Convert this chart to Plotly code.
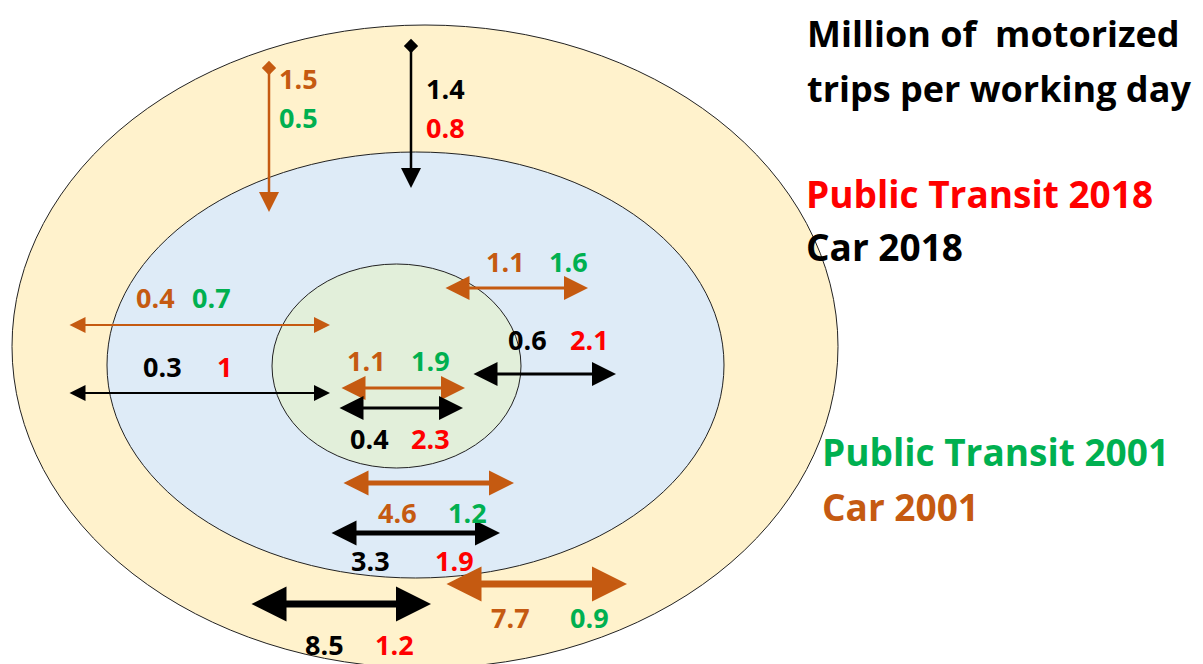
import plotly.graph_objects as go

# ---- data: million motorized trips per working day ----
flows = ["outer_to_middle", "outer_to_inner", "middle_inner_right", "inner_internal", "middle_internal", "outer_internal"]
car_2001 = ["1.5", "0.4", "1.1", "1.1", "4.6", "7.7"]
pt_2001 = ["0.5", "0.7", "1.6", "1.9", "1.2", "0.9"]
car_2018 = ["1.4", "0.3", "0.6", "0.4", "3.3", "8.5"]
pt_2018 = ["0.8", "1", "2.1", "2.3", "1.9", "1.2"]

legend_labels = ["Public Transit 2018", "Car 2018", "Public Transit 2001", "Car 2001"]
title_lines = ["Million of  motorized", "trips per working day"]

# ---- layout geometry (pixels) ----
ORANGE = "#C55A11"
GREEN = "#00B050"
RED = "#FF0000"
BLACK = "#000000"

# label positions: (x_first, x_second, y_first, y_second)
pos_2001 = [(298, 298, 78, 117), (155, 211, 297, 297), (505, 568, 261, 261),
            (366, 430, 360, 360), (397, 467, 512, 512), (510, 589, 617, 617)]
pos_2018 = [(445, 445, 88, 127), (162, 224, 366, 366), (527, 589, 339, 339),
            (369, 430, 438, 438), (370, 454, 560, 560), (324, 394, 644, 644)]

# arrows: (x_tail, y_tail, x_head, y_head, width, both_ends)
arrows_2001 = [(269, 68, 269, 212, 2.5, False), (68, 325, 330, 325, 2, True), (444, 288, 588, 288, 3, True),
               (340, 388, 465, 388, 3, True), (342, 483, 514, 483, 5, True), (445, 584, 627, 584, 7, True)]
arrows_2018 = [(411, 46, 411, 188, 2.5, False), (68, 393, 330, 393, 2, True), (472, 374, 616, 374, 3, True),
               (338, 408, 463, 408, 3, True), (330, 533, 500, 533, 5, True), (250, 604, 431, 604, 7, True)]

fig = go.Figure()

# ellipses
fig.add_shape(type="circle", xref="x", yref="y", x0=12, x1=838, y0=25, y1=668,
              fillcolor="#FFF2CC", line=dict(color="#222222", width=1), layer="below")
fig.add_shape(type="circle", xref="x", yref="y", x0=107, x1=724, y0=152, y1=578,
              fillcolor="#DEEBF7", line=dict(color="#222222", width=1), layer="below")
fig.add_shape(type="circle", xref="x", yref="y", x0=272, x1=521, y0=264, y1=468,
              fillcolor="#E2EFDA", line=dict(color="#222222", width=1), layer="below")

FONT = "Open Sans"
NUM_SIZE = 27

def add_arrows(arrs, color):
    for (x0, y0, x1, y1, w, both) in arrs:
        sz = 1.6 if w <= 3 else 1.0
        fig.add_annotation(x=x1, y=y1, ax=x0, ay=y0, xref="x", yref="y", axref="x", ayref="y",
                           text="", showarrow=True, arrowhead=2, arrowsize=sz,
                           arrowwidth=w, arrowcolor=color,
                           arrowside="end+start" if both else "end", startarrowhead=2,
                           startarrowsize=sz, standoff=0, startstandoff=0)
        if not both:
            fig.add_trace(go.Scatter(x=[x0], y=[y0], mode="markers",
                                     marker=dict(symbol="diamond", size=11, color=color),
                                     showlegend=False, hoverinfo="skip"))

add_arrows(arrows_2001, ORANGE)
add_arrows(arrows_2018, BLACK)

for i in range(len(flows)):
    xa, xb, ya, yb = pos_2001[i]
    fig.add_annotation(x=xa, y=ya, text=car_2001[i], showarrow=False, xref="x", yref="y",
                       font=dict(family=FONT, size=NUM_SIZE, color=ORANGE, weight="bold"))
    fig.add_annotation(x=xb, y=yb, text=pt_2001[i], showarrow=False, xref="x", yref="y",
                       font=dict(family=FONT, size=NUM_SIZE, color=GREEN, weight="bold"))
    xa, xb, ya, yb = pos_2018[i]
    fig.add_annotation(x=xa, y=ya, text=car_2018[i], showarrow=False, xref="x", yref="y",
                       font=dict(family=FONT, size=NUM_SIZE, color=BLACK, weight="bold"))
    fig.add_annotation(x=xb, y=yb, text=pt_2018[i], showarrow=False, xref="x", yref="y",
                       font=dict(family=FONT, size=NUM_SIZE, color=RED, weight="bold"))

TITLE_SIZE = 36
for txt, y in zip(title_lines, [33, 88]):
    fig.add_annotation(x=805, y=y, text=txt, showarrow=False, xref="x", yref="y", xanchor="left",
                       font=dict(family=FONT, size=TITLE_SIZE, color=BLACK, weight="bold"))

LEG_SIZE = 37
legend_colors = [RED, BLACK, GREEN, ORANGE]
legend_pos = [(804, 193), (804, 246), (820, 451), (820, 506)]
for txt, col, (x, y) in zip(legend_labels, legend_colors, legend_pos):
    fig.add_annotation(x=x, y=y, text=txt, showarrow=False, xref="x", yref="y", xanchor="left",
                       font=dict(family=FONT, size=LEG_SIZE, color=col, weight="bold"))

# offset the ranges by the 8px page margin so that data units equal screen pixels
fig.update_xaxes(range=[8, 1211], visible=False, fixedrange=True)
fig.update_yaxes(range=[672, 8], visible=False, fixedrange=True)
fig.update_layout(width=1203, height=664, margin=dict(l=0, r=0, t=0, b=0),
                  plot_bgcolor="white", paper_bgcolor="white", showlegend=False)

fig.write_html("out.html")
